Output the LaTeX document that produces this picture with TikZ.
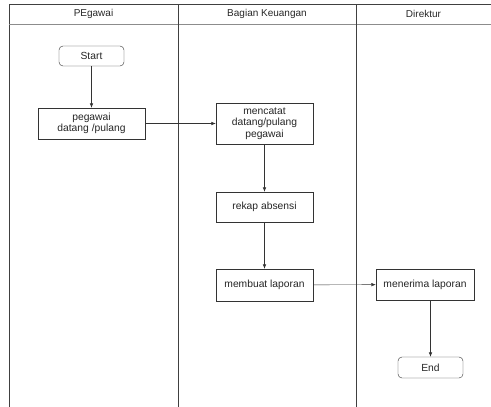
\documentclass[tikz,border=0pt]{standalone}
\usepackage{fontspec}
\setmainfont{Liberation Sans}
\usepackage{tikz}
\usetikzlibrary{arrows.meta,positioning}
\tikzstyle{lane} = [draw=black!75, line width=0.9pt]
\tikzstyle{lanetitle} = [font=\fontsize{10}{12}\selectfont, text=black!85]
\tikzstyle{process} = [rectangle, draw=black!80, fill=white, align=center, text centered, minimum width=97pt, inner sep=2pt, text=black!85, font=\fontsize{10.3}{11.5}\selectfont]
\tikzstyle{startstop} = [rectangle, rounded corners=4pt, draw=black!80, fill=white, minimum width=65pt, minimum height=20pt, text centered, text=black!85, font=\fontsize{10.3}{11.5}\selectfont]
\tikzstyle{arrow} = [draw=black!80, -{Latex[length=4.5pt,width=3.5pt]}]

\begin{document}
\begin{tikzpicture}[x=1pt, y=-1pt]
\useasboundingbox (0,0) rectangle (491,407);

% swimlanes
\draw[lane] (9,407) -- (9,4) -- (491,4);
\draw[lane, draw=black!45] (9,24) -- (491,24);
\draw[lane] (178,4) -- (178,407);
\draw[lane] (356,4) -- (356,407);
\node[lanetitle] (t1) at (93.5,14) {PEgawai};
\node[lanetitle] (t2) at (267,14) {Bagian Keuangan};
\node[lanetitle] (t3) at (423.5,14) {Direktur};

% PEgawai
\node[startstop] (start) at (91.5,56) {Start};
\node[process, minimum width=107pt, minimum height=31pt] (pegawai) at (91.5,123.5) {pegawai\\datang /pulang};

% Bagian Keuangan
\node[process, minimum height=41pt] (catat) at (264.5,123.5) {mencatat\\datang/pulang\\pegawai};
\node[process, minimum height=30pt] (rekap) at (264.5,207) {rekap absensi};
\node[process, minimum height=32pt] (laporan) at (264.5,285) {membuat laporan};

% Direktur
\node[process, minimum width=98pt, minimum height=31pt] (terima) at (425,284.5) {menerima laporan};
\node[startstop, minimum height=21pt] (end) at (430.5,367.5) {End};

\draw[arrow] (start) -- (pegawai);
\draw[arrow] (pegawai) -- (catat);
\draw[arrow] (catat) -- (rekap);
\draw[arrow] (rekap) -- (laporan);
\draw[arrow] (laporan) -- (terima);
\draw[arrow] (terima.south -| end.north) -- (end.north);
\end{tikzpicture}
\end{document}
